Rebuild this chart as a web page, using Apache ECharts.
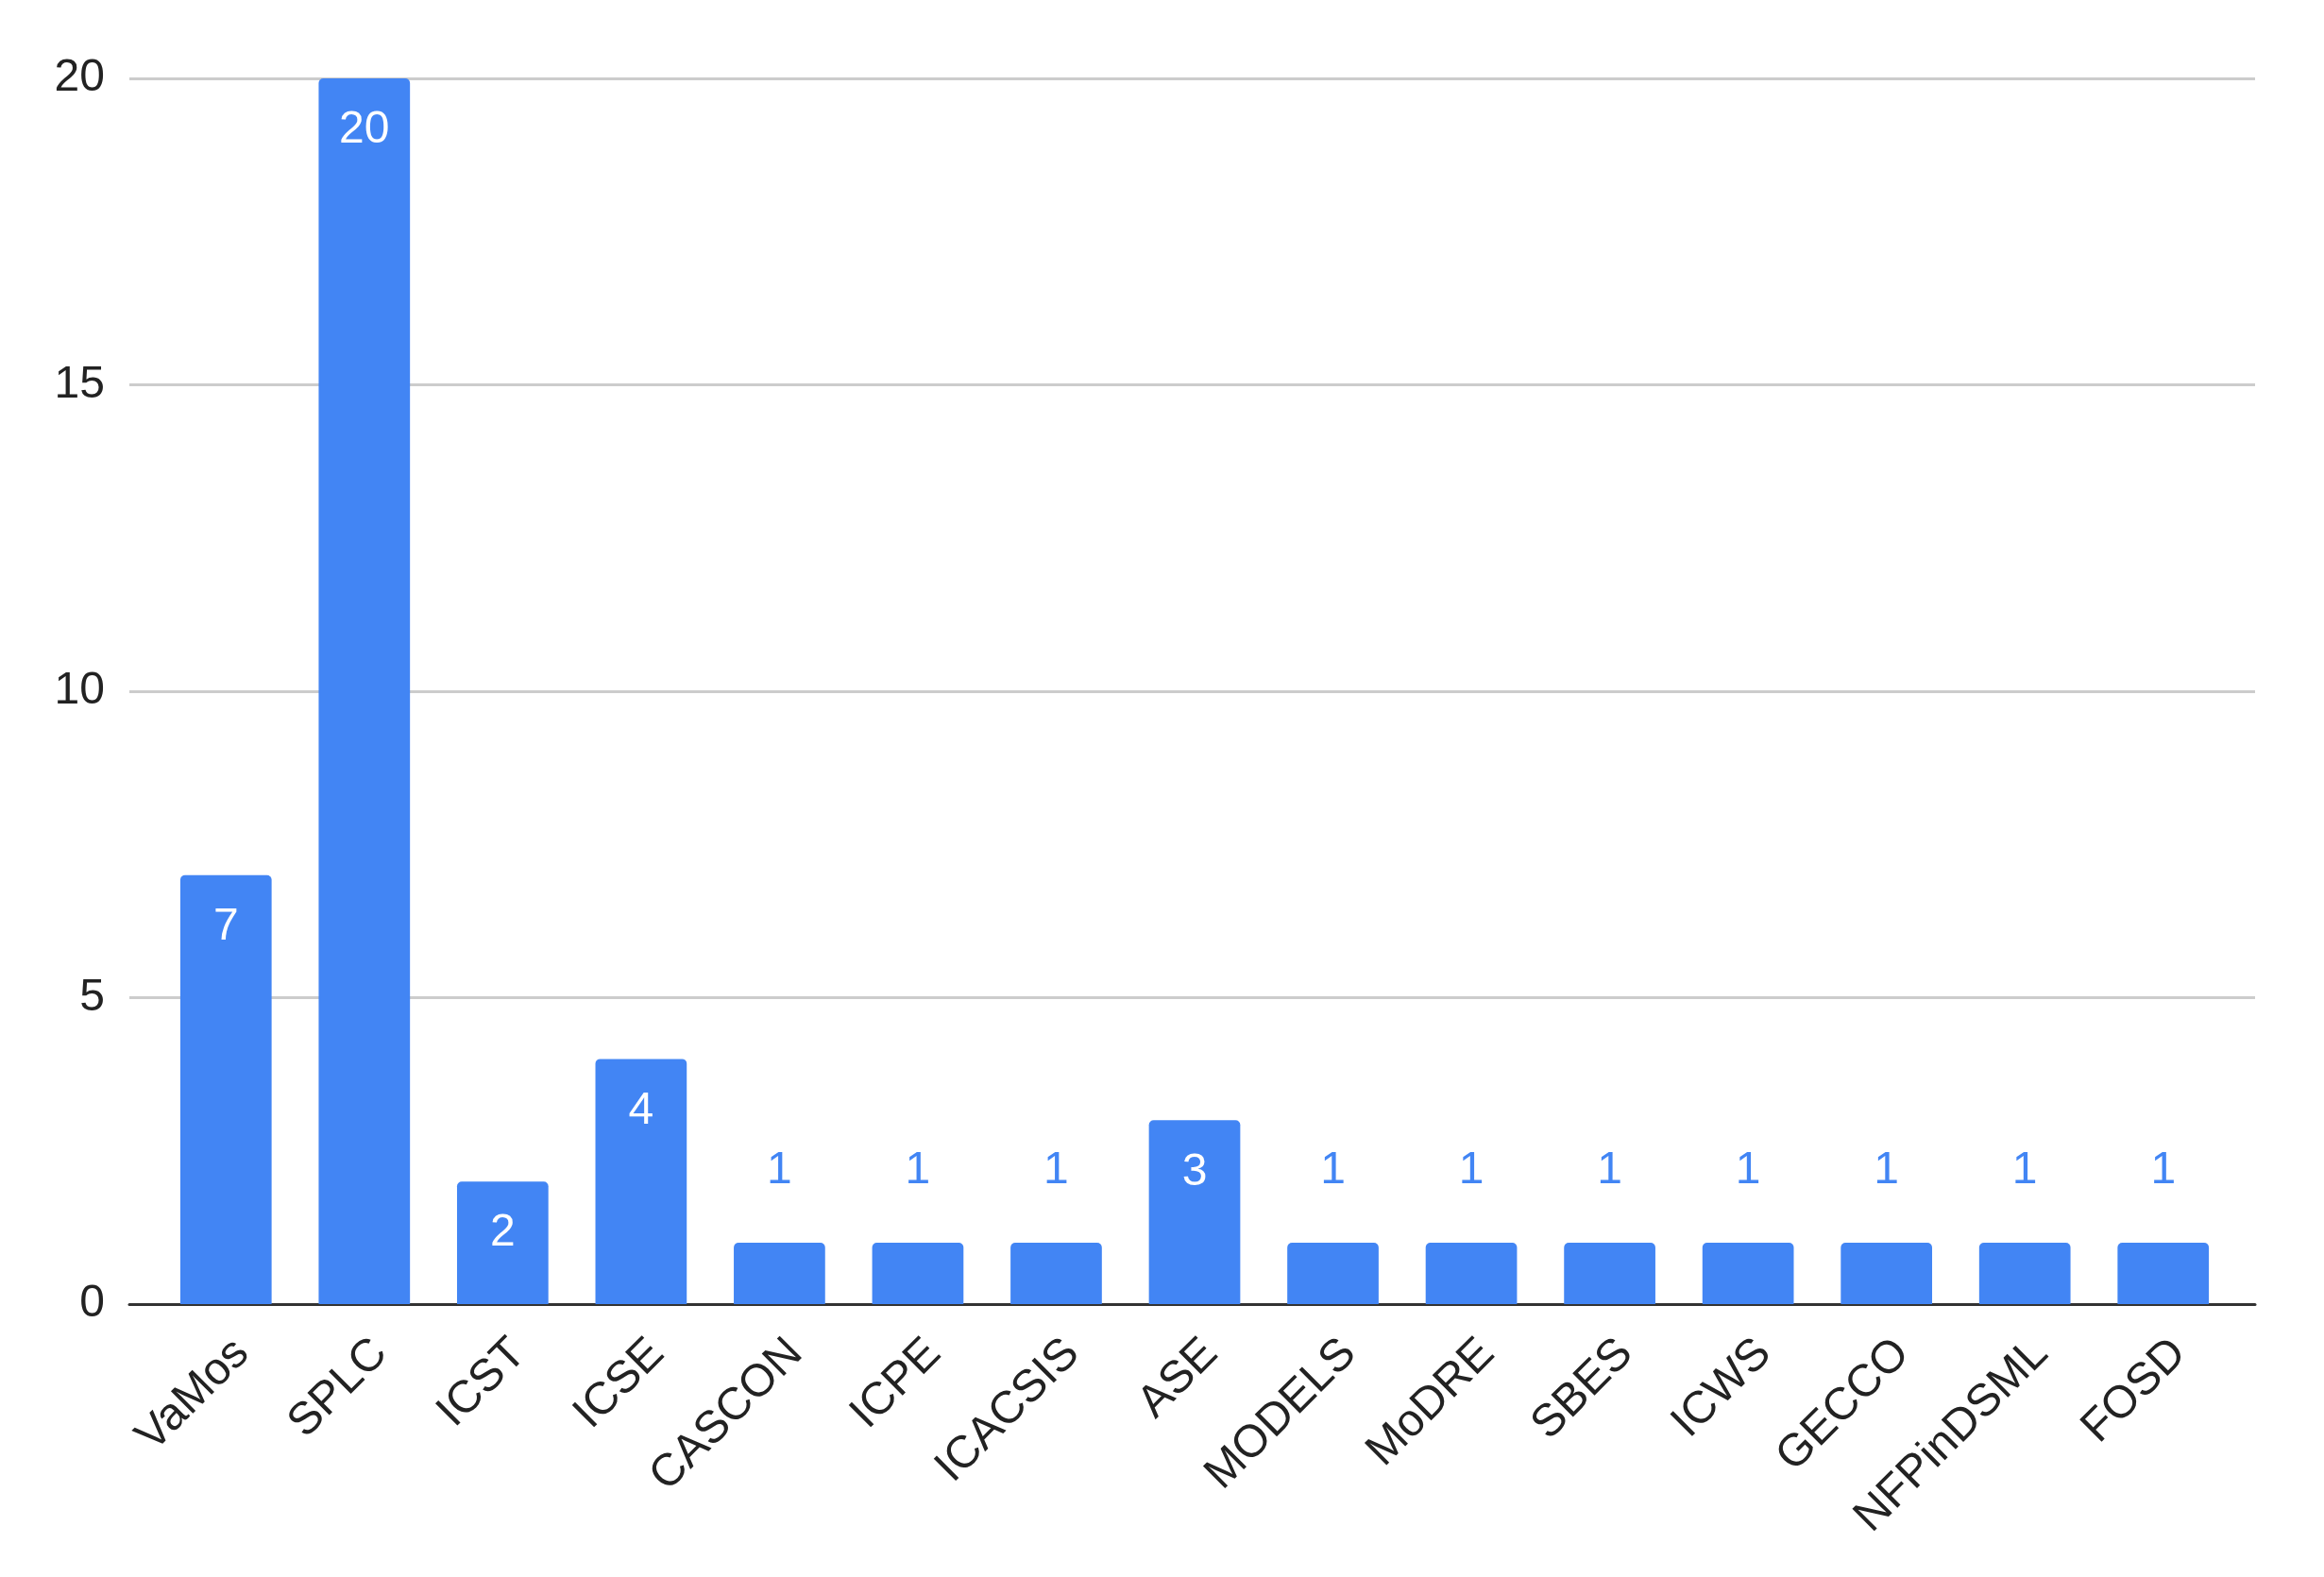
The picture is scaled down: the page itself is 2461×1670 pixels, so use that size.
<!DOCTYPE html>
<html>
<head>
<meta charset="utf-8">
<script src="https://cdn.jsdelivr.net/npm/echarts@6/dist/echarts.min.js"></script>
<style>html,body{margin:0;padding:0;background:#fff;}#chart{width:2461px;height:1670px;}</style>
</head>
<body>
<div id="chart"></div>
<script>
const categories = ['VaMos','SPLC','ICST','ICSE','CASCON','ICPE','ICACSIS','ASE','MODELS','MoDRE','SBES','ICWS','GECCO','NFPinDSML','FOSD'];
const counts = [7,20,2,4,1,1,1,3,1,1,1,1,1,1,1];
const yTicks = {min:0, max:20, interval:5};

const FONT = '"Liberation Sans", Arial, sans-serif';
const BLUE = '#4285F4';

const barData = counts.map(v => ({
  value: v,
  label: v > 1
    ? {position:'insideTop', distance:31, color:'#ffffff'}
    : {position:'top', distance:52, color:BLUE}
}));

const chart = echarts.init(document.getElementById('chart'), null, {renderer:'canvas'});
chart.setOption({
  backgroundColor:'#ffffff',
  animation:false,
  grid:[
    {left:166, right:97, top:83, bottom:289},
    {left:137, right:73, top:83, bottom:289}
  ],
  xAxis:[
    {type:'category', gridIndex:0, data:categories,
     axisLine:{show:false}, axisTick:{show:false},
     axisLabel:{rotate:45, interval:0, margin:28, verticalAlign:'top', fontSize:48, fontFamily:FONT, color:'#222222'}},
    {type:'value', gridIndex:1, min:0, max:1, show:true,
     axisLine:{show:true, onZero:true, lineStyle:{color:'#333333', width:3}},
     axisTick:{show:false}, axisLabel:{show:false}, splitLine:{show:false}}
  ],
  yAxis:[
    {type:'value', gridIndex:0, min:yTicks.min, max:yTicks.max, interval:yTicks.interval, show:false},
    {type:'value', gridIndex:1, min:yTicks.min, max:yTicks.max, interval:yTicks.interval,
     axisLine:{show:false}, axisTick:{show:false},
     axisLabel:{margin:26, fontSize:48, fontFamily:FONT, color:'#222222'},
     splitLine:{show:true, lineStyle:{color:'#cccccc', width:3}}}
  ],
  series:[{
    type:'bar', xAxisIndex:0, yAxisIndex:0,
    data:barData,
    barCategoryGap:'34%',
    itemStyle:{color:BLUE, borderRadius:[5,5,0,0]},
    label:{show:true, fontSize:48, fontFamily:FONT},
    z:3
  }]
});
</script>
</body>
</html>
